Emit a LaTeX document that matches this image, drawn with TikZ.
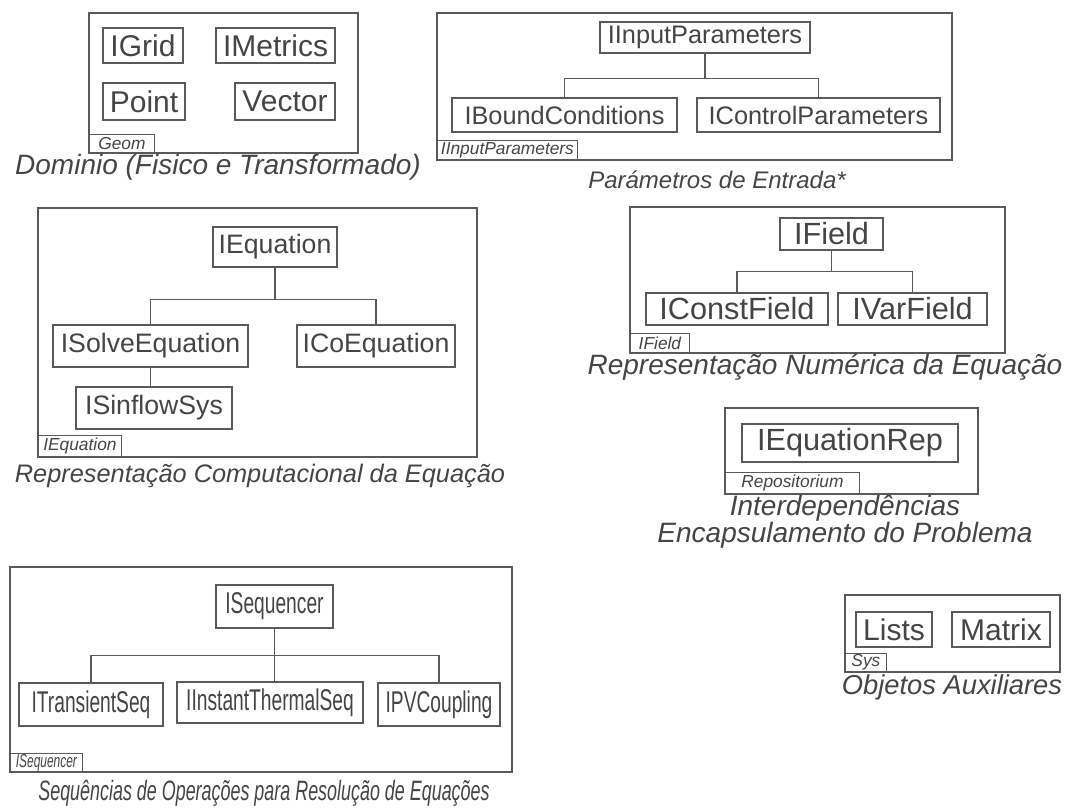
\documentclass[tikz,border=0pt]{standalone}
\usepackage{fontspec}
\setmainfont{Liberation Sans}
\newfontfamily\narrowfont[FakeStretch=0.64]{Liberation Sans}
\usetikzlibrary{positioning, fit, calc}
\definecolor{linegray}{HTML}{5A5A5A}
\definecolor{textgray}{HTML}{454545}

\newcommand\bigtxt{\fontsize{22.5}{25}\selectfont}
\newcommand\midtxt{\fontsize{19}{21}\selectfont}
\newcommand\eqtxt{\fontsize{20}{22}\selectfont}
\newcommand\fieldtxt{\fontsize{23}{25}\selectfont}
\newcommand\seqtxt{\narrowfont\fontsize{22.5}{25}\selectfont}

\tikzset{
  pkg/.style={draw=linegray, line width=0.9pt, inner sep=0pt},
  cls/.style 2 args={draw=linegray, line width=0.9pt, text=textgray, inner sep=0pt,
    minimum width=#1*0.75pt, minimum height=#2*0.75pt},
  tag/.style 2 args={draw=linegray, line width=0.8pt, text=textgray, inner sep=0pt,
    anchor=south west, minimum width=#1*0.75pt, minimum height=#2*0.75pt,
    font=\itshape\fontsize{13}{14}\selectfont},
  caption/.style={text=textgray, font=\itshape\fontsize{21}{24}\selectfont},
  link/.style={draw=linegray, line width=0.9pt},
}

\begin{document}
\begin{tikzpicture}[x=0.75pt, y=-0.75pt]
\useasboundingbox (0,0) rectangle (1071,807);

% dominio
\node[pkg, fit={(89,13) (358,153)}] (geom) {};
\node[cls={80}{35}, font=\bigtxt] (igrid) at (143,45.5) {IGrid};
\node[cls={119}{35}, font=\bigtxt] (imetrics) at (275.5,45.5) {IMetrics};
\node[cls={82}{37}, font=\bigtxt] (point) at (144,101.5) {Point};
\node[cls={100}{37}, font=\bigtxt] (vector) at (285,101.5) {Vector};
\node[tag={66}{19}] (geomtag) at (geom.south west) {Geom};
\node[caption] (geomcap) at (218,167) {Dominio (Fisico e Transformado)};

% parametros de entrada
\node[pkg, fit={(437,13) (952,160)}] (inpkg) {};
\node[cls={210}{31}, font=\midtxt] (iinput) at (705,37.5) {IInputParameters};
\node[cls={225}{34}, font=\midtxt] (ibound) at (564.5,115) {IBoundConditions};
\node[cls={243}{34}, font=\midtxt] (icontrol) at (818.5,115) {IControlParameters};
\draw[link] (iinput.south) -- ++(0,25) -| (ibound.north);
\draw[link] (iinput.south) -- ++(0,25) -| (icontrol.north);
\node[tag={141}{20}] (intag) at (inpkg.south west) {IInputParameters};
\node[caption, font=\itshape\fontsize{18}{20}\selectfont] (incap) at (717,180) {Parámetros de Entrada*};

% representacao computacional
\node[pkg, fit={(38,208) (477,457)}] (eqpkg) {};
\node[cls={124}{40}, font=\eqtxt] (iequation) at (275,247) {IEquation};
\node[cls={195}{42}, font=\eqtxt] (isolve) at (150.5,346) {ISolveEquation};
\node[cls={158}{42}, font=\eqtxt] (icoeq) at (376,346) {ICoEquation};
\node[cls={156}{42}, font=\eqtxt] (isinflow) at (154,408) {ISinflowSys};
\draw[link] (iequation.south) -- ++(0,32) -| (isolve.north);
\draw[link] (iequation.south) -- ++(0,32) -| (icoeq.north);
\draw[link] (isolve.south) -- (isolve.south |- isinflow.north);
\node[tag={84}{22}] (eqtag) at (eqpkg.south west) {IEquation};
\node[caption, font=\itshape\fontsize{19}{21}\selectfont] (eqcap) at (260,476) {Representação Computacional da Equação};

% representacao numerica
\node[pkg, fit={(630,207) (1005,353)}] (fieldpkg) {};
\node[cls={103}{32}, font=\fieldtxt] (ifield) at (831.5,234) {IField};
\node[cls={182}{32}, font=\fieldtxt] (iconst) at (737,309) {IConstField};
\node[cls={149}{32}, font=\fieldtxt] (ivar) at (912.5,309) {IVarField};
\draw[link] (ifield.south) -- ++(0,21) -| (iconst.north);
\draw[link] (ifield.south) -- ++(0,21) -| (ivar.north);
\node[tag={60}{20}] (fieldtag) at (fieldpkg.south west) {IField};
\node[caption] (fieldcap) at (825,367) {Representação Numérica da Equação};

% repositorium
\node[pkg, fit={(725,408) (978,494)}] (reppkg) {};
\node[cls={216}{38}, font=\fieldtxt] (ieqrep) at (850,443) {IEquationRep};
\node[tag={135}{22}] (reptag) at (reppkg.south west) {Repositorium};
\node[caption] (repcap) at (845,508) {Interdependências};
\node[caption] (probcap) at (845,535) {Encapsulamento do Problema};

% sequencias
\node[pkg, fit={(10,567) (512,772)}] (seqpkg) {};
\node[cls={117}{43}, font=\seqtxt] (iseq) at (274.5,606.5) {ISequencer};
\node[cls={144}{43}, font=\seqtxt] (itrans) at (91,704.5) {ITransientSeq};
\node[cls={186}{41}, font=\seqtxt] (iinst) at (270,702.5) {IInstantThermalSeq};
\node[cls={122}{43}, font=\seqtxt] (ipv) at (439,704.5) {IPVCoupling};
\draw[link] (iseq.south) -- ++(0,27) -| (itrans.north);
\draw[link] (iseq.south) -- ++(0,27) -| (ipv.north);
\draw[link] (iseq.south) -- (iseq.south |- iinst.north);
\node[tag={73}{19}, font=\narrowfont\itshape\fontsize{14}{15}\selectfont] (seqtag) at (seqpkg.south west) {ISequencer};
\node[caption, font=\narrowfont\itshape\fontsize{21}{24}\selectfont] (seqcap) at (264,793) {Sequências de Operações para Resolução de Equações};

% objetos auxiliares
\node[pkg, fit={(845,595) (1060,672)}] (syspkg) {};
\node[cls={76}{35}, font=\bigtxt] (lists) at (894,629.5) {Lists};
\node[cls={98}{35}, font=\bigtxt] (matrix) at (1001,629.5) {Matrix};
\node[tag={42}{19}] (systag) at (syspkg.south west) {Sys};
\node[caption, font=\itshape\fontsize{20.5}{23}\selectfont] (syscap) at (952,687) {Objetos Auxiliares};
\end{tikzpicture}
\end{document}
